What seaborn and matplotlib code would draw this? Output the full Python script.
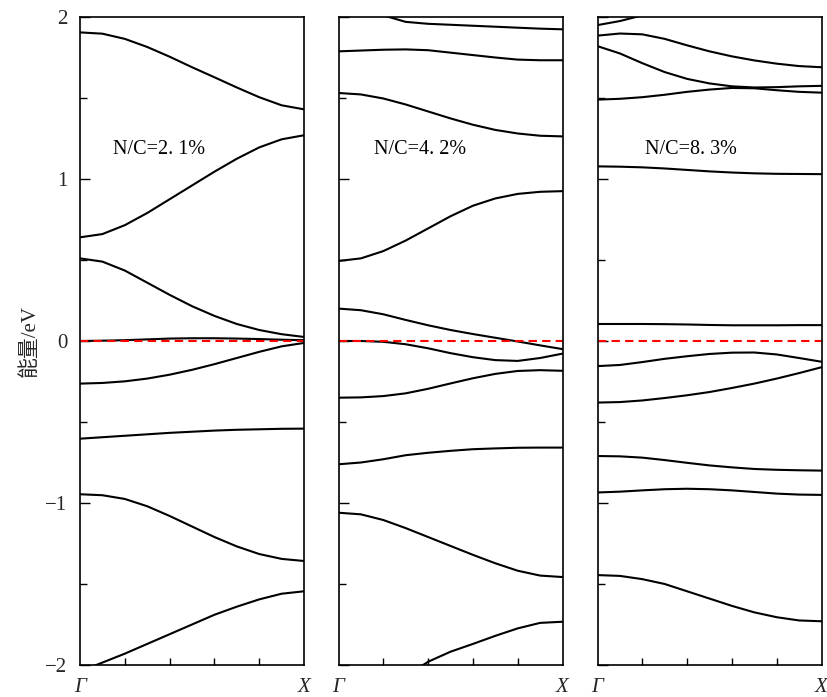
import numpy as np
import pandas as pd
import matplotlib
matplotlib.use("Agg")
import matplotlib.pyplot as plt
import seaborn as sns
from matplotlib.ticker import MultipleLocator

# ---- data (k path Gamma -> X, energies in eV) ----
k = [0.0, 0.1, 0.2, 0.3, 0.4, 0.5, 0.6, 0.7, 0.8, 0.9, 1.0]
nan = float("nan")

bands_21 = [
    [1.905, 1.897, 1.865, 1.815, 1.755, 1.69, 1.628, 1.565, 1.505, 1.455, 1.43],
    [0.64, 0.66, 0.715, 0.79, 0.875, 0.96, 1.045, 1.125, 1.195, 1.245, 1.27],
    [0.51, 0.49, 0.435, 0.36, 0.285, 0.215, 0.155, 0.105, 0.068, 0.042, 0.025],
    [0.0, 0.002, 0.005, 0.010, 0.015, 0.017, 0.017, 0.015, 0.012, 0.008, 0.005],
    [-0.263, -0.259, -0.249, -0.232, -0.208, -0.178, -0.143, -0.105, -0.067, -0.033, -0.012],
    [-0.603, -0.594, -0.585, -0.576, -0.567, -0.56, -0.553, -0.548, -0.545, -0.542, -0.541],
    [-0.946, -0.952, -0.975, -1.02, -1.08, -1.145, -1.21, -1.268, -1.315, -1.345, -1.358],
    [-2.04, -1.985, -1.93, -1.87, -1.81, -1.75, -1.69, -1.64, -1.595, -1.56, -1.545],
]

bands_42 = [
    [2.13, 2.07, 2.01, 1.97, 1.958, 1.952, 1.946, 1.94, 1.934, 1.928, 1.924],
    [1.788, 1.793, 1.798, 1.80, 1.795, 1.78, 1.765, 1.75, 1.737, 1.733, 1.733],
    [1.531, 1.522, 1.497, 1.46, 1.417, 1.374, 1.335, 1.303, 1.281, 1.267, 1.263],
    [0.494, 0.51, 0.555, 0.62, 0.695, 0.77, 0.835, 0.88, 0.908, 0.921, 0.925],
    [0.20, 0.19, 0.165, 0.13, 0.097, 0.068, 0.043, 0.02, -0.003, -0.027, -0.05],
    [0.0, 0.0, -0.005, -0.02, -0.045, -0.075, -0.10, -0.118, -0.123, -0.105, -0.078],
    [-0.35, -0.348, -0.34, -0.323, -0.295, -0.262, -0.23, -0.203, -0.185, -0.18, -0.184],
    [-0.761, -0.75, -0.73, -0.705, -0.69, -0.678, -0.668, -0.663, -0.659, -0.658, -0.658],
    [-1.06, -1.07, -1.105, -1.155, -1.21, -1.265, -1.32, -1.372, -1.418, -1.448, -1.457],
    [nan, nan, nan, -2.07, -1.98, -1.918, -1.87, -1.82, -1.774, -1.74, -1.733],
]

bands_83 = [
    [1.95, 1.975, 2.01, 2.06, nan, nan, nan, nan, nan, nan, nan],
    [1.885, 1.898, 1.893, 1.865, 1.825, 1.788, 1.757, 1.732, 1.712, 1.697, 1.69],
    [1.82, 1.775, 1.715, 1.66, 1.618, 1.59, 1.572, 1.565, 1.567, 1.572, 1.575],
    [1.49, 1.495, 1.505, 1.52, 1.538, 1.552, 1.562, 1.56, 1.548, 1.538, 1.533],
    [1.078, 1.076, 1.072, 1.065, 1.056, 1.047, 1.04, 1.035, 1.032, 1.031, 1.03],
    [0.105, 0.105, 0.105, 0.104, 0.102, 0.099, 0.097, 0.097, 0.097, 0.098, 0.098],
    [-0.155, -0.148, -0.13, -0.11, -0.094, -0.08, -0.072, -0.071, -0.083, -0.105, -0.128],
    [-0.38, -0.377, -0.367, -0.352, -0.335, -0.315, -0.29, -0.263, -0.232, -0.198, -0.162],
    [-0.71, -0.712, -0.72, -0.735, -0.752, -0.768, -0.78, -0.79, -0.795, -0.798, -0.80],
    [-0.935, -0.93, -0.922, -0.915, -0.912, -0.915, -0.922, -0.932, -0.942, -0.948, -0.95],
    [-1.445, -1.45, -1.47, -1.50, -1.545, -1.59, -1.635, -1.675, -1.705, -1.725, -1.73],
]

panel_bands = [bands_21, bands_42, bands_83]
panel_labels = ["N/C=2. 1%", "N/C=4. 2%", "N/C=8. 3%"]
label_k = [0.147, 0.16, 0.21]
label_e = 1.185
fermi_k = [0.0, 1.0]
fermi_e = [0.0, 0.0]
kpoint_labels = ["Γ", "X"]
y_label = "能量/eV"

# ---- style ----
sns.set_theme(style="ticks")
plt.rcParams["font.family"] = ["Liberation Serif", "Noto Sans CJK SC"]
plt.rcParams["axes.unicode_minus"] = True

fig = plt.figure(figsize=(8.27, 6.97), dpi=100)
W, H = 827.0, 697.0
lefts = [80 / W, 338.5 / W, 597.5 / W]
ax_w = 224 / W
ax_b = 32 / H
ax_h = 648 / H

for i, bands in enumerate(panel_bands):
    ax = fig.add_axes([lefts[i], ax_b, ax_w, ax_h])
    rows = []
    for j, b in enumerate(bands):
        for kk, ee in zip(k, b):
            if not np.isnan(ee):
                rows.append({"k": kk, "E": ee, "band": j})
    df = pd.DataFrame(rows)
    sns.lineplot(data=df, x="k", y="E", units="band", estimator=None, sort=False,
                 color="black", linewidth=1.5, legend=False, ax=ax)
    sns.lineplot(x=fermi_k, y=fermi_e, color="red", linestyle=(0, (4, 2.5)),
                 linewidth=1.5, ax=ax)

    ax.set_xlim(0, 1)
    ax.set_ylim(-2, 2)
    ax.set_xlabel("")
    ax.set_ylabel("")

    ax.yaxis.set_major_locator(MultipleLocator(1))
    ax.yaxis.set_minor_locator(MultipleLocator(0.5))
    ax.tick_params(axis="y", which="major", direction="in", length=7, width=1,
                   color="black", labelsize=15, pad=9, right=False)
    ax.tick_params(axis="y", which="minor", direction="in", length=5, width=1,
                   color="black", right=False)
    ax.set_xticks([0, 1])
    ax.set_xticklabels(kpoint_labels, fontstyle="italic", fontsize=15)
    ax.set_xticks([0.2, 0.4, 0.6, 0.8], minor=True)
    ax.tick_params(axis="x", which="major", length=0, pad=9, labelsize=15)
    ax.tick_params(axis="x", which="minor", direction="in", length=5, width=1,
                   color="black", top=False)
    if i == 0:
        ax.set_yticks([-2, -1, 0, 1, 2])
        ax.set_ylabel(y_label, fontsize=15, labelpad=4)
    else:
        ax.tick_params(axis="y", which="both", labelleft=False)

    for s in ax.spines.values():
        s.set_visible(True)
        s.set_color("black")
        s.set_linewidth(1.2)

    ax.text(label_k[i], label_e, panel_labels[i], fontsize=14.5,
            ha="left", va="center", color="black")

fig.savefig("out.png", dpi=100)
